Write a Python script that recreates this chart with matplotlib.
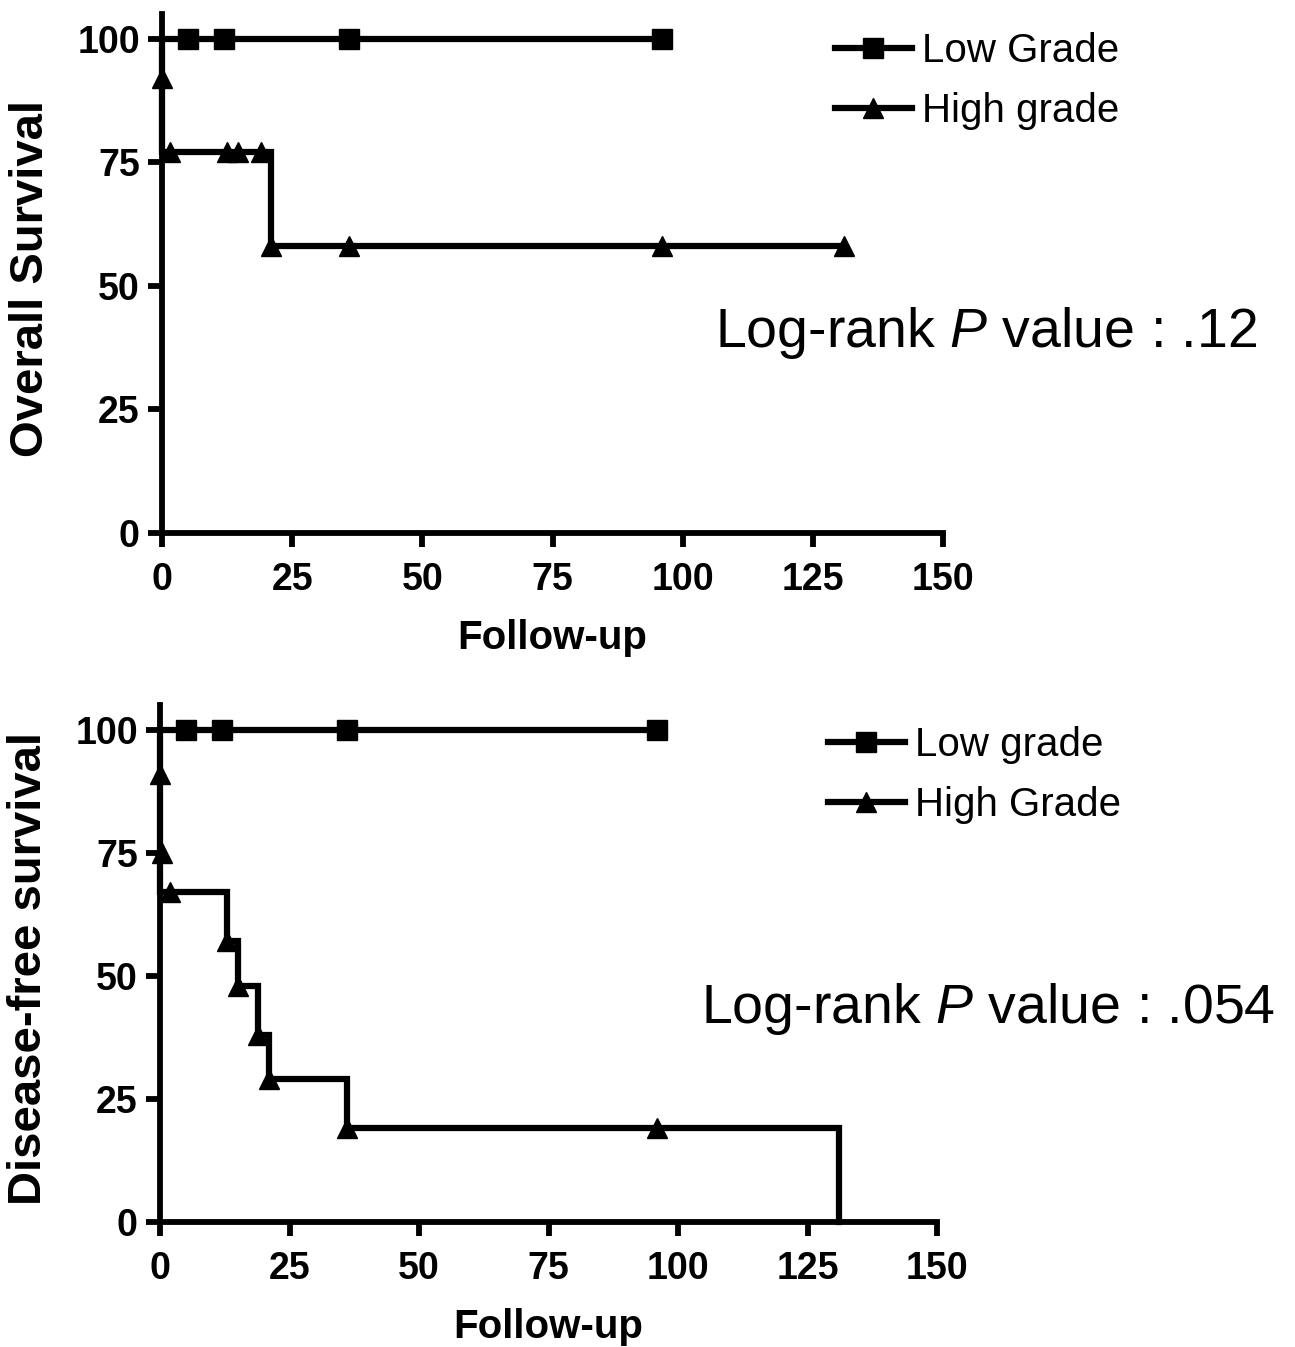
import matplotlib
matplotlib.use("Agg")
import matplotlib.pyplot as plt

plt.rcParams['font.family'] = ['Liberation Sans', 'DejaVu Sans']
plt.rcParams['mathtext.fontset'] = 'custom'
plt.rcParams['mathtext.rm'] = 'Liberation Sans'
plt.rcParams['mathtext.it'] = 'Liberation Sans:italic'

# ---- data ----
# Overall survival
os_low_t = [0, 96]
os_low_s = [100, 100]
os_low_cens_t = [5, 12, 36, 96]
os_low_cens_s = [100, 100, 100, 100]

os_high_t = [0, 0, 21, 131]
os_high_s = [100, 77, 58, 58]
os_high_cens_t = [0, 1.5, 12.5, 14.5, 19, 21, 36, 96, 131]
os_high_cens_s = [92, 77, 77, 77, 77, 58, 58, 58, 58]

# Disease-free survival
dfs_low_t = [0, 96]
dfs_low_s = [100, 100]
dfs_low_cens_t = [5, 12, 36, 96]
dfs_low_cens_s = [100, 100, 100, 100]

dfs_high_t = [0, 0, 13, 15, 19, 21, 36, 131]
dfs_high_s = [100, 67, 57, 48, 38, 29, 19, 0]
dfs_high_cens_t = [0, 0.4, 2, 13, 15, 19, 21, 36, 96]
dfs_high_cens_s = [91, 75, 67, 57, 48, 38, 29, 19, 19]

x_ticks = [0, 25, 50, 75, 100, 125, 150]
y_ticks = [0, 25, 50, 75, 100]

panels = [
    {
        "rect": [0.1251, 0.6043, 0.6031, 0.3853],
        "ylabel": "Overall Survival",
        "low": (os_low_t, os_low_s, os_low_cens_t, os_low_cens_s),
        "high": (os_high_t, os_high_s, os_high_cens_t, os_high_cens_s),
        "labels": ["Low Grade", "High grade"],
        "pval": r"Log-rank $\it{P}$ value : .12",
        "pval_xy": (0.7614, 0.7424),
        "leg_xy": (0.6448, 0.9760),
        "xlab_y": -0.166,
    },
    {
        "rect": [0.1236, 0.0928, 0.6000, 0.3838],
        "ylabel": "Disease-free survival",
        "low": (dfs_low_t, dfs_low_s, dfs_low_cens_t, dfs_low_cens_s),
        "high": (dfs_high_t, dfs_high_s, dfs_high_cens_t, dfs_high_cens_s),
        "labels": ["Low grade", "High Grade"],
        "pval": r"Log-rank $\it{P}$ value : .054",
        "pval_xy": (0.7629, 0.2405),
        "leg_xy": (0.6394, 0.4610),
        "xlab_y": -0.167,
    },
]

fig = plt.figure(figsize=(12.95, 13.47), dpi=100)

for p in panels:
    ax = fig.add_axes(p["rect"])
    for key, mk, lab in [("low", "s", p["labels"][0]), ("high", "^", p["labels"][1])]:
        t, s, ct, cs = p[key]
        ax.step(t, s, where="post", color="black", lw=4.5, clip_on=False,
                solid_joinstyle="miter", zorder=3)
        ax.plot(ct, cs, ls="none", marker=mk, ms=15, color="black",
                clip_on=False, zorder=4)
        # legend proxy
        ax.plot([], [], color="black", lw=4.5, marker=mk, ms=15, label=lab)

    ax.set_xlim(0, 150)
    ax.set_ylim(0, 105)
    ax.set_xticks(x_ticks)
    ax.set_yticks(y_ticks)
    for side in ["top", "right"]:
        ax.spines[side].set_visible(False)
    ax.spines["left"].set_linewidth(4.2)
    ax.spines["bottom"].set_linewidth(4.2)
    ax.tick_params(direction="out", length=10, width=4.2)
    ax.tick_params(axis="x", pad=11)
    ax.tick_params(axis="y", pad=6)
    for lbl in ax.get_xticklabels() + ax.get_yticklabels():
        lbl.set_fontsize(27)
        lbl.set_fontweight("bold")
    ax.set_xlabel("Follow-up", fontsize=29, fontweight="bold")
    ax.xaxis.set_label_coords(0.4994, p["xlab_y"])
    ax.set_ylabel(p["ylabel"], fontsize=34, fontweight="bold")
    ax.yaxis.set_label_coords(-0.140, 0.49)

    fig.text(p["pval_xy"][0], p["pval_xy"][1], p["pval"], fontsize=40,
             ha="center", va="baseline")
    fig.legend(*ax.get_legend_handles_labels(), loc="upper left",
               bbox_to_anchor=p["leg_xy"], frameon=False, fontsize=29,
               numpoints=1, handlelength=1.9, handletextpad=0.25,
               labelspacing=0.55, borderpad=0, borderaxespad=0)

fig.savefig("out.png", dpi=100)
